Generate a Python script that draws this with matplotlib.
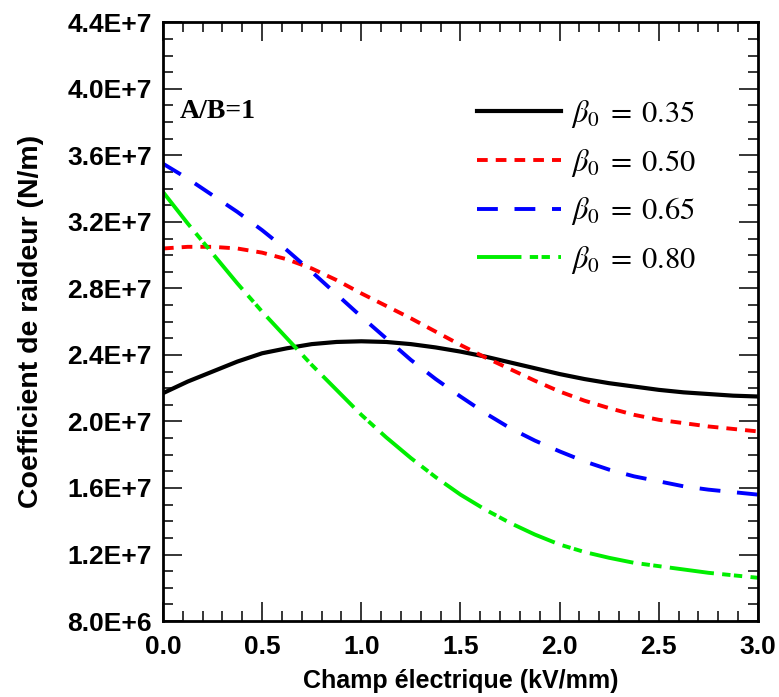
import numpy as np
import matplotlib
matplotlib.use("Agg")
import matplotlib.pyplot as plt
from matplotlib.ticker import MultipleLocator, FormatStrFormatter

# values (field in kV/mm, stiffness in N/m)
champ = [0.0, 0.125, 0.25, 0.375, 0.5, 0.625, 0.75, 0.875, 1.0, 1.125, 1.25, 1.375, 1.5,
         1.625, 1.75, 1.875, 2.0, 2.125, 2.25, 2.375, 2.5, 2.625, 2.75, 2.875, 3.0]
k_035 = [2.17, 2.24, 2.30, 2.36, 2.41, 2.44, 2.465, 2.478, 2.482, 2.478, 2.465, 2.445, 2.42,
         2.39, 2.355, 2.32, 2.285, 2.255, 2.23, 2.21, 2.19, 2.175, 2.165, 2.155, 2.15]
k_050 = [3.04, 3.05, 3.05, 3.04, 3.015, 2.975, 2.92, 2.85, 2.77, 2.695, 2.62, 2.54, 2.46,
         2.385, 2.315, 2.245, 2.18, 2.125, 2.08, 2.04, 2.01, 1.99, 1.97, 1.955, 1.94]
k_065 = [3.55, 3.46, 3.36, 3.26, 3.15, 3.03, 2.90, 2.765, 2.63, 2.50, 2.37, 2.255, 2.15,
         2.05, 1.96, 1.885, 1.82, 1.76, 1.71, 1.67, 1.64, 1.61, 1.59, 1.575, 1.56]
k_080 = [3.38, 3.19, 3.01, 2.83, 2.66, 2.50, 2.34, 2.19, 2.04, 1.905, 1.78, 1.665, 1.56,
         1.47, 1.39, 1.32, 1.26, 1.215, 1.18, 1.15, 1.13, 1.11, 1.09, 1.075, 1.06]
labels = [r"$\beta_0\;=\;0.35$", r"$\beta_0\;=\;0.50$", r"$\beta_0\;=\;0.65$", r"$\beta_0\;=\;0.80$"]

plt.rcParams['mathtext.fontset'] = 'stix'
plt.rcParams['lines.scale_dashes'] = False
plt.rcParams['font.family'] = ['Liberation Sans', 'DejaVu Sans']

fig = plt.figure(figsize=(7.79, 6.97), dpi=100)
ax = fig.add_axes([0.2092, 0.109, 0.7638, 0.859])

x = np.array(champ)
ax.plot(x, np.array(k_035) * 1e7, color='black', lw=3.0, label=labels[0])
ax.plot(x, np.array(k_050) * 1e7, color='#ff0000', lw=2.8, dashes=(7.7, 5.8), label=labels[1])
ax.plot(x, np.array(k_065) * 1e7, color='#0000ff', lw=2.8, dashes=(15, 12), label=labels[2])
ax.plot(x, np.array(k_080) * 1e7, color='#00ee00', lw=2.8, dashes=(32, 6, 6, 2.5, 6, 6), label=labels[3])

ax.set_xlim(0, 3.0)
ax.set_ylim(8.0e6, 4.4e7)
ax.xaxis.set_major_locator(MultipleLocator(0.5))
ax.xaxis.set_minor_locator(MultipleLocator(0.1))
ax.yaxis.set_major_locator(MultipleLocator(4e6))
ax.yaxis.set_minor_locator(MultipleLocator(1e6))
ax.xaxis.set_major_formatter(FormatStrFormatter('%.1f'))


def sci_fmt(v, pos):
    s = "%.1E" % v
    mant, ex = s.split("E")
    return "%sE+%d" % (mant, int(ex))


ax.yaxis.set_major_formatter(plt.FuncFormatter(sci_fmt))

ax.tick_params(which='both', direction='in', top=True, right=True, width=1.1)
ax.tick_params(which='major', length=14, labelsize=19)
ax.tick_params(which='minor', length=7)
ax.tick_params(axis='y', pad=8)
ax.tick_params(axis='x', pad=10)
for lab in ax.get_xticklabels() + ax.get_yticklabels():
    lab.set_fontweight('bold')
for sp in ax.spines.values():
    sp.set_linewidth(2)

ax.set_xlabel("Champ électrique (kV/mm)", fontsize=18, fontweight='bold', labelpad=7)
ax.set_ylabel("Coefficient de raideur (N/m)", fontsize=20.5, fontweight='bold', labelpad=17)

ax.text(0.029, 0.851, "A/B=1", transform=ax.transAxes, fontsize=20,
        fontweight='bold', family='Liberation Serif', va='center', ha='left')

ax.legend(loc='upper left', bbox_to_anchor=(0.527, 0.874), frameon=False,
          fontsize=22, handlelength=2.75, handletextpad=0.33, labelspacing=0.55,
          borderpad=0, borderaxespad=0)

fig.savefig("out.png", dpi=100)
